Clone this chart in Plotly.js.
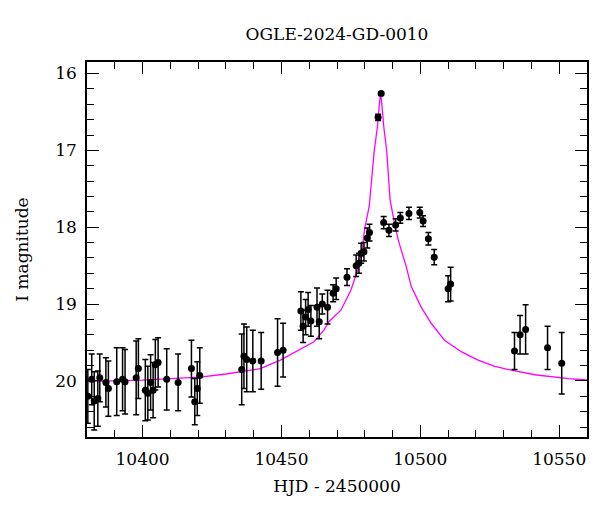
<!DOCTYPE html>
<html>
<head>
<meta charset="utf-8">
<script src="https://cdn.plot.ly/plotly-3.0.1.min.js"></script>
<style>
  html, body { margin: 0; padding: 0; background: #fff; }
  #plot { width: 600px; height: 512px; }
</style>
</head>
<body>
<div id="plot"></div>
<script>
// Observed points (HJD - 2450000, I mag, error)
let hjd = [10380.3, 10381.7, 10382.6, 10383.9, 10384.6, 10386.8, 10387.7, 10390.7, 10392.8, 10393.7,
  10397.7, 10398.5, 10401.0, 10401.9, 10402.9, 10403.8, 10404.6, 10405.6, 10408.7, 10412.8,
  10417.6, 10418.8, 10419.7, 10420.6, 10435.7, 10436.5, 10437.5, 10439.7, 10442.7, 10448.6,
  10450.6, 10457.0, 10457.8, 10458.7, 10459.6, 10460.6, 10462.8, 10463.6, 10464.7, 10466.6,
  10468.6, 10469.7, 10473.6, 10476.9, 10477.9, 10478.7, 10479.7, 10480.9, 10481.7, 10484.8,
  10485.9, 10486.8, 10488.7, 10491.1, 10492.8, 10495.9, 10499.8, 10501.0, 10502.9, 10505.0,
  10510.0, 10510.9, 10533.9, 10535.9, 10537.9, 10545.8, 10550.9]
let mag = [20.20, 19.98, 20.26, 20.23, 19.96, 20.02, 20.10, 20.01, 19.98, 20.01,
  19.96, 19.84, 20.12, 20.16, 20.02, 20.12, 19.79, 19.76, 19.98, 20.02,
  19.84, 20.27, 20.10, 19.93, 19.85, 19.68, 19.72, 19.74, 19.74, 19.63,
  19.60, 19.09, 19.29, 19.17, 19.07, 19.22, 19.04, 19.23, 19.00, 19.04,
  18.86, 18.80, 18.65, 18.50, 18.47, 18.34, 18.32, 18.14, 18.07, 16.57,
  16.26, 17.94, 18.04, 17.97, 17.88, 17.82, 17.81, 17.92, 18.15, 18.39,
  18.80, 18.74, 19.61, 19.40, 19.33, 19.57, 19.77]
let err = [0.35, 0.33, 0.38, 0.36, 0.31, 0.32, 0.36, 0.44, 0.41, 0.42,
  0.48, 0.39, 0.40, 0.35, 0.36, 0.36, 0.33, 0.32, 0.40, 0.37,
  0.37, 0.30, 0.35, 0.36, 0.46, 0.42, 0.42, 0.40, 0.37, 0.44,
  0.35, 0.25, 0.21, 0.23, 0.22, 0.20, 0.25, 0.22, 0.13, 0.22,
  0.11, 0.14, 0.11, 0.14, 0.13, 0.13, 0.12, 0.13, 0.11, 0.04,
  0.02, 0.08, 0.08, 0.08, 0.07, 0.08, 0.07, 0.07, 0.08, 0.10,
  0.17, 0.22, 0.24, 0.25, 0.32, 0.28, 0.40]

// Model curve
let modelHjd = [10380.0, 10390.0, 10399.8, 10410.0, 10420.7, 10430.0, 10435.2, 10442.4, 10449.6, 10456.8,
  10461.7, 10465.3, 10467.1, 10471.4, 10475.0, 10477.4, 10479.2, 10480.0, 10481.6, 10483.4,
  10484.6, 10485.2, 10485.7, 10486.2, 10486.8, 10487.9, 10489.1, 10491.0, 10492.4, 10494.9,
  10496.7, 10500.3, 10503.9, 10508.7, 10514.7, 10520.8, 10526.8, 10532.8, 10541.2, 10553.3,
  10560.6]
let modelMag = [20.01, 20.00, 19.99, 19.97, 19.95, 19.91, 19.88, 19.84, 19.73, 19.59,
  19.49, 19.34, 19.23, 19.08, 18.82, 18.56, 18.25, 18.01, 17.73, 17.01,
  16.68, 16.42, 16.25, 16.42, 16.68, 17.01, 17.64, 18.01, 18.21, 18.51,
  18.77, 19.04, 19.25, 19.47, 19.62, 19.73, 19.81, 19.86, 19.92, 19.97,
  19.99]

let serif = "DejaVu Serif, Liberation Serif, serif"

let model = {
  x: modelHjd,
  y: modelMag,
  mode: "lines",
  type: "scatter",
  line: {color: "#ff00ff", width: 1.3},
  hoverinfo: "skip"
};

let points = {
  x: hjd,
  y: mag,
  mode: "markers",
  type: "scatter",
  marker: {color: "black", size: 7},
  error_y: {type: "data", array: err, visible: true, color: "black", thickness: 1.5, width: 3}
};

let axisCommon = {
  showgrid: false,
  zeroline: false,
  showline: true,
  linecolor: "black",
  linewidth: 1.5,
  mirror: "ticks",
  ticks: "inside",
  ticklen: 12,
  tickwidth: 1.2,
  tickcolor: "black",
  tickfont: {family: serif, size: 17, color: "black"}
};

let layout = {
  width: 600,
  height: 512,
  showlegend: false,
  paper_bgcolor: "white",
  plot_bgcolor: "white",
  margin: {l: 87, r: 13, t: 62, b: 75},
  title: {
    text: "OGLE-2024-GD-0010",
    font: {family: serif, size: 17, color: "black"},
    x: 0.5, xref: "paper", y: 0.945, yref: "container"
  },
  xaxis: Object.assign({}, axisCommon, {
    range: [10380, 10560],
    dtick: 50,
    tick0: 10400,
    tickformat: "d",
    ticklabelstandoff: 6,
    minor: {dtick: 10, ticklen: 7, tickcolor: "black", ticks: "inside"},
    title: {text: "HJD - 2450000", font: {family: serif, size: 17, color: "black"}, standoff: 12}
  }),
  yaxis: Object.assign({}, axisCommon, {
    range: [20.73, 15.85],
    dtick: 1,
    tick0: 16,
    ticklabelstandoff: 5,
    minor: {dtick: 0.2, ticklen: 7, tickcolor: "black", ticks: "inside"},
    title: {text: "I magnitude", font: {family: serif, size: 17, color: "black"}, standoff: 22}
  })
};

Plotly.newPlot("plot", [model, points], layout, {displayModeBar: false});
</script>
</body>
</html>
